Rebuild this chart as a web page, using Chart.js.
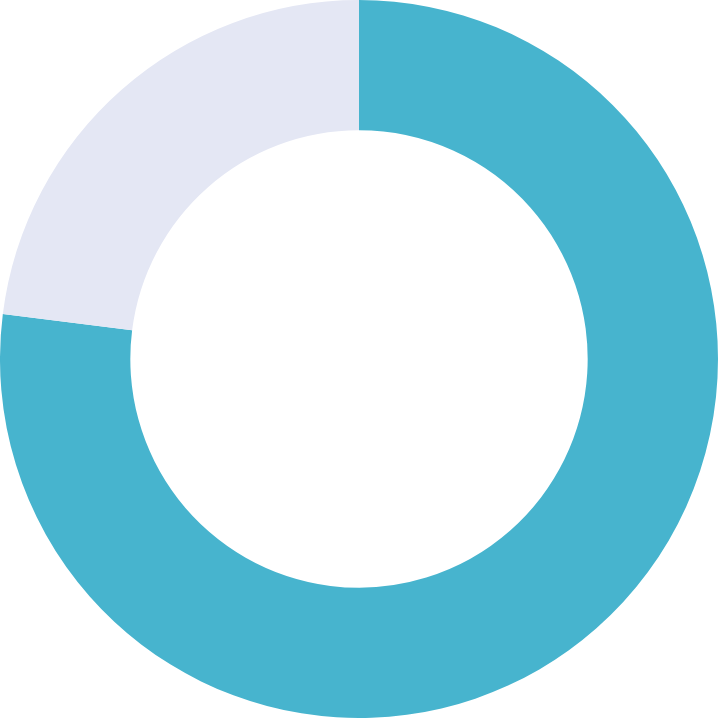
<!DOCTYPE html>
<html>
<head>
<meta charset="utf-8">
<script src="https://cdn.jsdelivr.net/npm/chart.js@4"></script>
<style>
  html, body { margin: 0; padding: 0; background: #fff; }
  #wrap { width: 718px; height: 718px; }
</style>
</head>
<body>
<div id="wrap"><canvas id="chart"></canvas></div>
<script>
const labels = ['Done', 'Remaining'];
const values = [77, 23];
const colors = ['#47B4CE', '#E4E7F4'];

document.addEventListener('DOMContentLoaded', () => {
    const ctx = document.getElementById('chart').getContext('2d');
    new Chart(ctx, {
        type: 'doughnut',
        data: {
            labels: labels,
            datasets: [{
                data: values,
                backgroundColor: colors,
                borderWidth: 0
            }]
        },
        options: {
            responsive: true,
            maintainAspectRatio: false,
            animation: false,
            cutout: '63.7%',
            layout: { padding: 0 },
            plugins: {
                legend: { display: false },
                tooltip: { enabled: false }
            }
        }
    });
});
</script>
</body>
</html>
